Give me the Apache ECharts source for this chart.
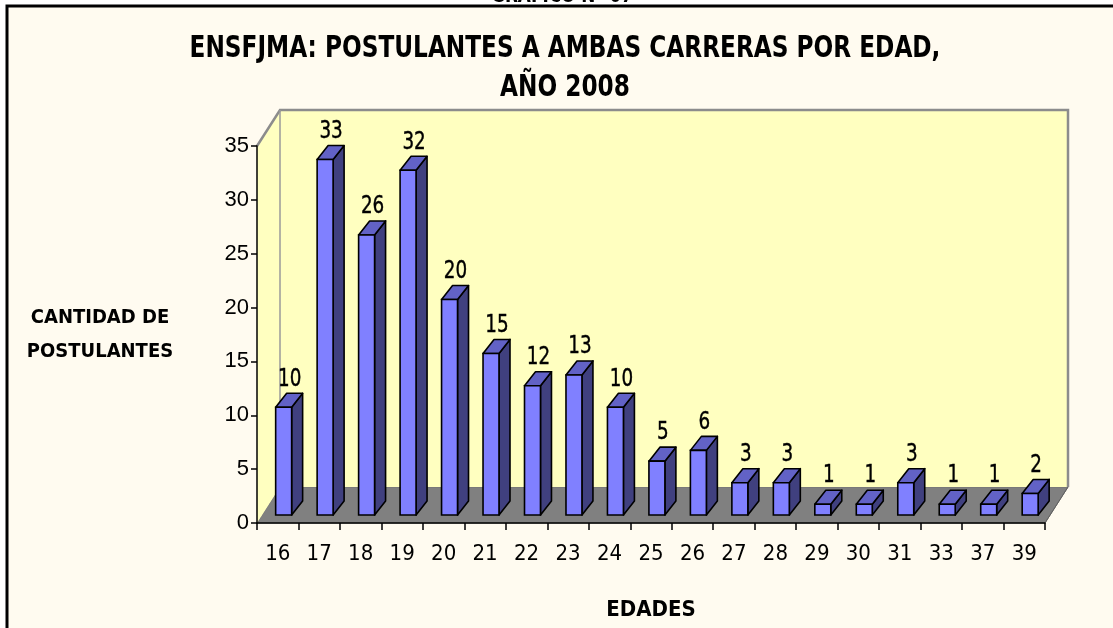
<!DOCTYPE html>
<html>
<head>
<meta charset="utf-8">
<script src="https://cdn.jsdelivr.net/npm/echarts@6/dist/echarts.min.js"></script>
<style>
html,body{margin:0;padding:0;background:#ffffff;}
#chart{width:1113px;height:628px;}
</style>
</head>
<body>
<div id="chart"></div>
<script>
// ---- data ----
var ages = ['16','17','18','19','20','21','22','23','24','25','26','27','28','29','30','31','33','37','39'];
var postulantes = [10,33,26,32,20,15,12,13,10,5,6,3,3,1,1,3,1,1,2];
var yTicks = [0,5,10,15,20,25,30,35];
var titleLines = ['ENSFJMA: POSTULANTES A AMBAS CARRERAS POR EDAD,', 'AÑO 2008'];

var NARROW = "'Liberation Sans Narrow','DejaVu Sans Condensed','Arial Narrow',sans-serif";
var REG = "'Liberation Sans',Arial,sans-serif";
var DEPTH = [23, -36];

var chart = echarts.init(document.getElementById('chart'), null, {renderer:'canvas'});

var barData = postulantes.map(function(v, i){ return [i, v]; });

function renderWalls(params, api){
  var cs = params.coordSys;
  var x = cs.x, y = cs.y, w = cs.width, h = cs.height;
  var dx = DEPTH[0], dy = DEPTH[1];
  return {
    type:'group',
    children:[
      {type:'polygon', shape:{points:[[x,y+h],[x+dx,y+h+dy],[x+w+dx,y+h+dy],[x+w,y+h]]},
       style:{fill:'#808080', stroke:'#707070', lineWidth:1}},
      {type:'polygon', shape:{points:[[x,y],[x+dx,y+dy],[x+dx,y+h+dy],[x,y+h]]},
       style:{fill:'#FFFFC0', stroke:null}},
      {type:'rect', shape:{x:x+dx, y:y+dy, width:w, height:h},
       style:{fill:'#FFFFC0', stroke:null}},
      {type:'polyline', shape:{points:[[x,y],[x+dx,y+dy],[x+w+dx,y+dy],[x+w+dx,y+h+dy]]},
       style:{fill:null, stroke:'#8c8c8c', lineWidth:2.5}},
      {type:'line', shape:{x1:x+dx,y1:y+dy,x2:x+dx,y2:y+h+dy},
       style:{stroke:'#9a9a9a', lineWidth:1.5}},
      {type:'line', shape:{x1:x+w,y1:y+h,x2:x+w+dx,y2:y+h+dy},
       style:{stroke:'#606060', lineWidth:1}}
    ]
  };
}

function renderBar(params, api){
  var idx = api.value(0), v = api.value(1);
  var base = api.coord([idx, 0]);
  var top = api.coord([idx, v]);
  var band = api.size([1, 0])[0];
  var bw = band * 0.385;
  var cx = base[0];
  var fx0 = cx - band*0.05, fx1 = fx0 + bw;
  var fy0 = base[1] - 8, fy1 = top[1] - 8;
  var dx = 11, dy = -14;
  var stroke = '#000000', lw = 1.6;
  return {
    type:'group',
    children:[
      {type:'polygon', shape:{points:[[fx1,fy1],[fx1+dx,fy1+dy],[fx1+dx,fy0+dy],[fx1,fy0]]},
       style:{fill:'#40407F', stroke:stroke, lineWidth:lw, lineJoin:'round'}},
      {type:'polygon', shape:{points:[[fx0,fy1],[fx1,fy1],[fx1+dx,fy1+dy],[fx0+dx,fy1+dy]]},
       style:{fill:'#6262C6', stroke:stroke, lineWidth:lw, lineJoin:'round'}},
      {type:'rect', shape:{x:fx0, y:fy1, width:bw, height:fy0-fy1},
       style:{fill:'#8080FF', stroke:stroke, lineWidth:lw}},
      {type:'text', x:fx0 + bw/2 + 6, y:fy1 - 28, scaleX:0.85, scaleY:1,
       style:{text:String(v), x:0, y:0,
        align:'center', verticalAlign:'middle',
        font:'500 24px ' + NARROW, fill:'#000', stroke:'#000', lineWidth:0.4}}
    ]
  };
}

var option = {
  backgroundColor:'#ffffff',
  animation:false,
  graphic:[
    {type:'rect', z:-10, shape:{x:7, y:6, width:1120, height:640},
     style:{fill:'#FFFBF0', stroke:'#000', lineWidth:3}},
    {type:'text', z:-9, x:562, y:-4, scaleX:0.85,
     style:{text:'GRAFICO N° 07', x:0, y:0, align:'center', verticalAlign:'middle',
      font:'bold 22px ' + NARROW, fill:'#000'}},
    {type:'text', z:5, x:565, y:49, scaleX:0.86,
     style:{text:titleLines[0], x:0, y:0, align:'center', verticalAlign:'middle',
      font:'bold 30px ' + NARROW, fill:'#000'}},
    {type:'text', z:5, x:565, y:88, scaleX:0.86,
     style:{text:titleLines[1], x:0, y:0, align:'center', verticalAlign:'middle',
      font:'bold 30px ' + NARROW, fill:'#000'}}
  ],
  grid:{left:257, right:68, top:146, bottom:105, containLabel:false},
  xAxis:{
    type:'category', data:ages, boundaryGap:true, z:5,
    name:'EDADES', nameLocation:'middle', nameGap:76,
    nameTextStyle:{fontFamily:NARROW, fontWeight:'bold', fontSize:22, color:'#000'},
    axisLine:{show:true, lineStyle:{color:'#000', width:1.5}},
    axisTick:{show:true, length:7, lineStyle:{color:'#000', width:1.5}},
    axisLabel:{margin:20, fontFamily:NARROW, fontSize:22, color:'#000'},
    splitLine:{show:false}
  },
  yAxis:{
    type:'value', min:0, max:35, interval:5, z:5,
    name:'CANTIDAD DE\nPOSTULANTES', nameLocation:'middle', nameGap:157, nameRotate:0,
    nameTextStyle:{fontFamily:NARROW, fontWeight:'bold', fontSize:20, lineHeight:34, align:'center', color:'#000'},
    axisLine:{show:true, lineStyle:{color:'#000', width:1.5}},
    axisTick:{show:true, length:6, lineStyle:{color:'#000', width:1.5}},
    axisLabel:{margin:8, fontFamily:REG, fontSize:22, color:'#000',
      formatter:function(v){ return yTicks.indexOf(v) >= 0 ? String(v) : ''; }},
    splitLine:{show:false}
  },
  series:[
    {type:'custom', name:'walls', z:1, silent:true, data:[[0,0]], renderItem:renderWalls, encode:{x:0,y:1}},
    {type:'custom', name:'Postulantes', z:3, data:barData, renderItem:renderBar, encode:{x:0,y:1}, clip:false}
  ]
};
chart.setOption(option);
</script>
</body>
</html>
